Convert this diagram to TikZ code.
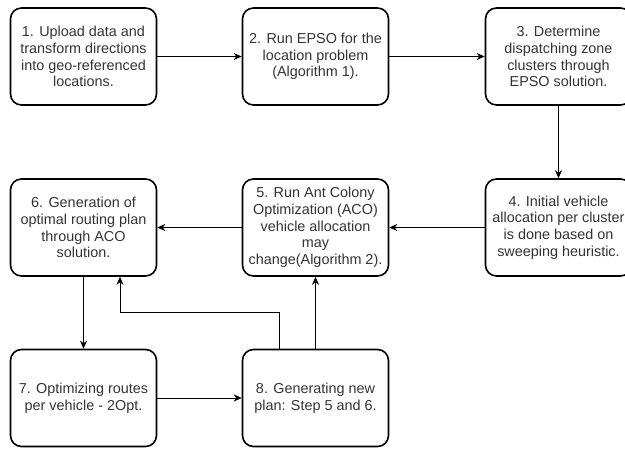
\documentclass[tikz,border=0pt]{standalone}
\usepackage{fontspec}
\setmainfont{Liberation Sans}
\usepackage{xcolor}
\usepackage{tikz}
\usetikzlibrary{arrows.meta,calc}
\definecolor{textgrey}{HTML}{333333}

\begin{document}
\begin{tikzpicture}[x=1pt,y=-1pt,
  stepbox/.style={draw,line width=1.6pt,rounded corners=11pt,minimum width=146pt,minimum height=97pt,
    align=center,text=textgrey,font=\fontsize{14.4}{16.7}\selectfont,inner sep=1pt},
  arr/.style={-{Stealth[length=8pt,width=7pt]},line width=0.8pt}]
  \useasboundingbox (0,0) rectangle (625,448);
  \clip (0,0) rectangle (625,448);
  % top row
  \node[stepbox] (upload) at (83.5,56.5) {1. Upload data and\\transform directions\\into geo-referenced\\locations.};
  \node[stepbox] (epso) at (315.5,56.5) {2. Run EPSO for the\\location problem\\(Algorithm 1).};
  \node[stepbox] (zones) at (558.5,56.5) {3. Determine\\dispatching zone\\clusters through\\EPSO solution.};
  % middle row
  \node[stepbox] (initalloc) at (558.5,227.5) {4. Initial vehicle\\allocation per cluster\\is done based on\\sweeping heuristic.};
  \node[stepbox] (aco) at (315.5,227.5) {5. Run Ant Colony\\Optimization (ACO)\\vehicle allocation\\may\\change(Algorithm 2).};
  \node[stepbox] (routing) at (83.5,227.5) {6. Generation of\\optimal routing plan\\through ACO\\solution.};
  % bottom row
  \node[stepbox] (opt) at (83.5,398) {7. Optimizing routes\\per vehicle - 2Opt.};
  \node[stepbox] (newplan) at (315.5,398) {8. Generating new\\plan: Step 5 and 6.};

  \draw[arr] (upload) -- (epso);
  \draw[arr] (epso) -- (zones);
  \draw[arr] (zones) -- (initalloc);
  \draw[arr] (initalloc) -- (aco);
  \draw[arr] (aco) -- (routing);
  \draw[arr] (routing) -- (opt);
  \draw[arr] (opt) -- (newplan);
  \draw[arr] (newplan) -- (aco);
  \draw[arr] ([xshift=-36pt]newplan.north) -- ++(0,-36) -| ([xshift=36.5pt]routing.south);
\end{tikzpicture}
\end{document}
